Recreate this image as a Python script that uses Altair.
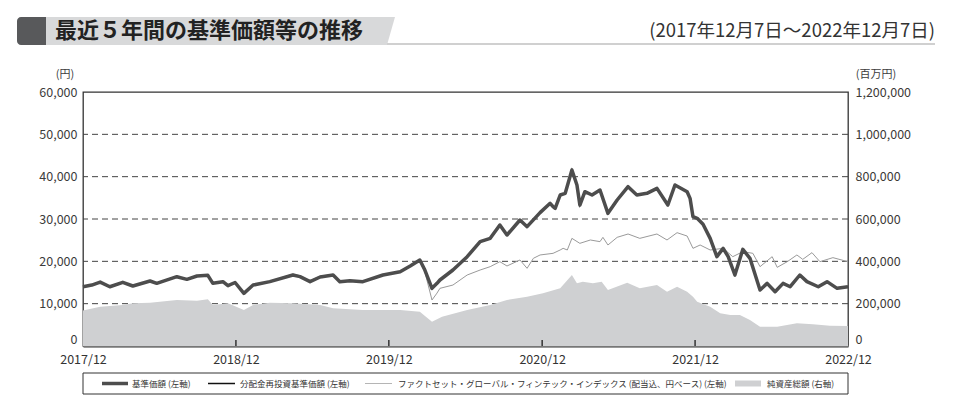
import altair as alt
import pandas as pd

# ---------------- data ----------------
base_dates = [
    "2017-12-07", "2017-12-28", "2018-01-17", "2018-02-09", "2018-03-12", "2018-04-05",
    "2018-05-16", "2018-06-01", "2018-07-19", "2018-08-12", "2018-09-05", "2018-10-01",
    "2018-10-13", "2018-11-06", "2018-11-18", "2018-12-05", "2018-12-26", "2019-01-17",
    "2019-02-26", "2019-04-22", "2019-05-09", "2019-06-02", "2019-06-26", "2019-07-27",
    "2019-08-12", "2019-09-05", "2019-10-06", "2019-11-23", "2020-01-03", "2020-01-27",
    "2020-02-19", "2020-03-02", "2020-03-19", "2020-03-31", "2020-04-07", "2020-05-08",
    "2020-06-11", "2020-07-12", "2020-08-05", "2020-08-28", "2020-09-14", "2020-10-15",
    "2020-11-01", "2020-12-02", "2020-12-26", "2021-01-02", "2021-01-07", "2021-01-19",
    "2021-01-31", "2021-02-16", "2021-02-28", "2021-03-07", "2021-03-19", "2021-04-05",
    "2021-04-24", "2021-05-13", "2021-06-04", "2021-06-30", "2021-07-21", "2021-08-14",
    "2021-09-07", "2021-10-03", "2021-10-20", "2021-11-18", "2021-11-25", "2021-12-02",
    "2021-12-12", "2021-12-26", "2022-01-12", "2022-01-28", "2022-02-12", "2022-02-24",
    "2022-03-12", "2022-03-31", "2022-04-17", "2022-05-11", "2022-05-28", "2022-06-16",
    "2022-07-05", "2022-07-22", "2022-08-14", "2022-08-31", "2022-09-27", "2022-10-18",
    "2022-11-11", "2022-12-07",
]
base_vals = [
    14000, 14400, 15100, 14000, 15050, 14170,
    15350, 14800, 16370, 15750, 16530, 16690,
    14800, 15200, 14250, 15000, 12440, 14400,
    15200, 16770, 16380, 15200, 16300, 16770,
    15200, 15440, 15200, 16770, 17560, 18900,
    20320, 17950, 13620, 14800, 15590, 17950,
    21100, 24650, 25430, 28580, 26220, 29760,
    28190, 31500, 33700, 32900, 32520, 35670,
    36060, 41570, 38030, 33300, 36450, 35670,
    36850, 31340, 34490, 37640, 35670, 36060,
    37240, 33300, 38030, 36450, 34880, 30550,
    30160, 28780, 25430, 21100, 23070, 21100,
    16770, 22830, 20710, 13230, 14800, 12830,
    14800, 14000, 16770, 15200, 14000, 15200,
    13620, 14000,
]

idx_dates = [
    "2017-12-07", "2017-12-28", "2018-01-17", "2018-02-09", "2018-03-12", "2018-04-05",
    "2018-05-16", "2018-06-01", "2018-07-19", "2018-08-12", "2018-09-05", "2018-10-01",
    "2018-10-13", "2018-11-06", "2018-11-18", "2018-12-05", "2018-12-26", "2019-01-17",
    "2019-02-26", "2019-04-22", "2019-05-09", "2019-06-02", "2019-06-26", "2019-07-27",
    "2019-08-12", "2019-09-05", "2019-10-06", "2019-11-23", "2020-01-03", "2020-01-27",
    "2020-02-19", "2020-03-02", "2020-03-19", "2020-03-31", "2020-04-07", "2020-05-08",
    "2020-06-11", "2020-07-12", "2020-08-05", "2020-08-28", "2020-09-14", "2020-10-15",
    "2020-11-01", "2020-11-16", "2020-12-02", "2021-01-02", "2021-01-19", "2021-01-26",
    "2021-02-05", "2021-02-16", "2021-03-07", "2021-04-01", "2021-04-24", "2021-05-01",
    "2021-05-13", "2021-06-04", "2021-06-30", "2021-07-28", "2021-09-07", "2021-10-01",
    "2021-10-25", "2021-11-18", "2021-12-02", "2021-12-19", "2022-01-12", "2022-02-12",
    "2022-03-07", "2022-03-31", "2022-04-24", "2022-05-11", "2022-06-09", "2022-06-21",
    "2022-07-15", "2022-08-07", "2022-08-21", "2022-09-12", "2022-10-01", "2022-11-01",
    "2022-12-07",
]
idx_vals = [
    14000, 14400, 15100, 14000, 15050, 14170,
    15350, 14800, 16370, 15750, 16530, 16690,
    14800, 15200, 14250, 15000, 12440, 14400,
    15300, 17000, 16600, 15400, 16500, 16900,
    15300, 15500, 15300, 16800, 17560, 18800,
    20100, 17500, 10860, 12500, 13620, 14400,
    16770, 17950, 18740, 19920, 18900, 20320,
    18350, 20710, 21500, 21890, 22680, 23070,
    22680, 25430, 24250, 25040, 24650, 25670,
    23860, 25670, 26460, 25430, 26460, 25040,
    26770, 25980, 23070, 23860, 22680, 23070,
    21100, 22290, 21890, 18740, 21100, 18580,
    19920, 21500, 20470, 22050, 19920, 20870,
    19920,
]

na_dates = [
    "2017-12-07", "2018-01-17", "2018-03-12", "2018-04-05", "2018-05-16", "2018-07-19",
    "2018-09-05", "2018-10-01", "2018-10-13", "2018-11-18", "2018-12-26", "2019-01-17",
    "2019-02-26", "2019-04-22", "2019-06-26", "2019-07-27", "2019-10-06", "2020-01-03",
    "2020-02-19", "2020-03-19", "2020-04-12", "2020-06-11", "2020-08-05", "2020-09-14",
    "2020-11-01", "2020-12-09", "2021-01-19", "2021-02-16", "2021-02-28", "2021-03-14",
    "2021-04-07", "2021-04-28", "2021-05-13", "2021-06-28", "2021-07-28", "2021-09-07",
    "2021-10-01", "2021-10-25", "2021-11-18", "2021-12-02", "2021-12-12", "2022-01-12",
    "2022-02-05", "2022-03-01", "2022-03-24", "2022-04-17", "2022-05-11", "2022-06-21",
    "2022-08-07", "2022-09-14", "2022-10-25", "2022-12-07",
]
na_vals = [
    168000, 185700, 193700, 201600, 204700, 217300,
    214000, 220500, 193700, 201600, 170000, 193700,
    204700, 201600, 193700, 178000, 170000, 170000,
    162000, 114800, 138400, 170000, 193700, 217300,
    233000, 249000, 272600, 335400, 296200, 303800,
    296200, 303800, 264600, 299000, 272600, 288200,
    256500, 280000, 256500, 233000, 209300, 185700,
    154300, 146500, 146500, 122800, 91300, 91300,
    107000, 102400, 96000, 94500,
]

x_tick_dates = ["2017-12-07", "2018-12-07", "2019-12-07", "2020-12-07", "2021-12-07", "2022-12-07"]
inner_tick_dates = ["2018-12-07", "2019-12-07", "2020-12-07", "2021-12-07"]
left_ticks = [0, 10000, 20000, 30000, 40000, 50000, 60000]
grid_vals = [10000, 20000, 30000, 40000, 50000]
right_ticks = [0, 200000, 400000, 600000, 800000, 1000000, 1200000]

title_text = "最近５年間の基準価額等の推移"
period_text = "(2017年12月7日～2022年12月7日)"
left_unit = "(円)"
right_unit = "(百万円)"
legend_labels = [
    "基準価額 (左軸)",
    "分配金再投資基準価額 (左軸)",
    "ファクトセット・グローバル・フィンテック・インデックス (配当込、円ベース) (左軸)",
    "純資産総額 (右軸)",
]

# ---------------- styling ----------------
W, H = 765, 254
FONT = "Noto Sans CJK JP"
C_BASE = "#4d4d4d"
C_REINV = "#111111"
C_IDX = "#9a9a9a"
C_NA = "#cfd0d2"

base_df = pd.DataFrame({"date": base_dates, "v": base_vals})
idx_df = pd.DataFrame({"date": idx_dates, "v": idx_vals})
na_df = pd.DataFrame({"date": na_dates, "v": na_vals})
grid_df = pd.DataFrame({"g": grid_vals})
tick_df = pd.DataFrame({"date": inner_tick_dates})
one = pd.DataFrame({"k": [0]})

x_dom = [alt.DateTime(year=2017, month=12, date=7, utc=True),
         alt.DateTime(year=2022, month=12, date=7, utc=True)]
x_vals = [alt.DateTime(year=int(d[:4]), month=int(d[5:7]), date=int(d[8:10]), utc=True)
          for d in x_tick_dates]

x_axis = alt.Axis(values=x_vals, labelExpr="utcFormat(datum.value, '%Y/%m')",
                  ticks=False, grid=False, domain=True, domainColor="#777777",
                  domainWidth=2.5, labelPadding=7, labelFontSize=12.5,
                  labelColor="#333333", labelFont=FONT, title=None,
                  labelFlush=False, labelOverlap=False)
x_enc = alt.X("date:T", scale=alt.Scale(type="utc", domain=x_dom, nice=False), axis=x_axis)

y_left_scale = alt.Scale(domain=[0, 60000], nice=False, zero=True)
y_right_scale = alt.Scale(domain=[0, 1200000], nice=False, zero=True)

zero_baseline = alt.condition("datum.value == 0", alt.value("bottom"), alt.value("middle"))

left_axis = alt.Axis(orient="left", values=left_ticks, format=",.0f", grid=False, ticks=False,
                     domain=False, labelPadding=6, labelFontSize=12.5, labelColor="#3c3c3c",
                     labelFont=FONT, title=None, labelBaseline=zero_baseline)
right_axis = alt.Axis(orient="right", values=right_ticks, format=",.0f", grid=False, ticks=False,
                      domain=False, labelPadding=7, labelFontSize=12.5, labelColor="#3c3a37",
                      labelFont=FONT, title=None, labelBaseline=zero_baseline)

grid = alt.Chart(grid_df).mark_rule(strokeDash=[6, 4], color="#444444", strokeWidth=1).encode(
    y=alt.Y("g:Q", scale=y_left_scale, axis=left_axis)
)

area = alt.Chart(na_df).mark_area(color=C_NA, opacity=1).encode(
    x=x_enc, y=alt.Y("v:Q", scale=y_right_scale, axis=right_axis)
)

idx_line = alt.Chart(idx_df).mark_line(color=C_IDX, strokeWidth=1).encode(
    x=x_enc, y=alt.Y("v:Q", scale=y_left_scale, axis=None)
)
reinv_line = alt.Chart(base_df).mark_line(color=C_REINV, strokeWidth=1.5).encode(
    x=x_enc, y=alt.Y("v:Q", scale=y_left_scale, axis=None)
)
base_line = alt.Chart(base_df).mark_line(color=C_BASE, strokeWidth=3.5, strokeJoin="round").encode(
    x=x_enc, y=alt.Y("v:Q", scale=y_left_scale, axis=None)
)

inner_ticks = alt.Chart(tick_df).mark_rule(color="#333333", strokeWidth=1.5).encode(
    x=x_enc, y=alt.value(H), y2=alt.value(H - 6)
)

# ---------------- header ----------------
dark_sq = alt.Chart(one).mark_rect(color="#58595b", cornerRadiusTopLeft=4,
                                   cornerRadiusBottomLeft=4).encode(
    x=alt.value(-66), x2=alt.value(-37), y=alt.value(-75), y2=alt.value(-47)
)
bar_shape = "M-37,-75 L312,-75 L304,-47 L-37,-47 Z"
title_bar = alt.Chart(one).mark_point(shape=bar_shape, size=4, filled=True, opacity=1,
                                      color="#d8d9da", strokeWidth=0).encode(
    x=alt.value(0), y=alt.value(0)
)
underline = alt.Chart(one).mark_rect(color="#d0d0d0").encode(
    x=alt.value(304), x2=alt.value(852), y=alt.value(-49), y2=alt.value(-47)
)
title_mark = alt.Chart(one).mark_text(text=title_text, align="left", baseline="middle",
                                      fontSize=22, fontWeight="bold", font=FONT,
                                      color="#222222").encode(
    x=alt.value(-28), y=alt.value(-61)
)
period_mark = alt.Chart(one).mark_text(text=period_text, align="right", baseline="middle",
                                       fontSize=18.5, font=FONT, color="#333333").encode(
    x=alt.value(852), y=alt.value(-61)
)
unit_l = alt.Chart(one).mark_text(text=left_unit, align="center", baseline="middle",
                                  fontSize=11, font=FONT, color="#3c3c3c").encode(
    x=alt.value(-18), y=alt.value(-17)
)
unit_r = alt.Chart(one).mark_text(text=right_unit, align="center", baseline="middle",
                                  fontSize=11, font=FONT, color="#3c3c3c").encode(
    x=alt.value(793), y=alt.value(-17)
)

# ---------------- legend ----------------
LY = 291.5
leg_box = alt.Chart(one).mark_rect(fill="white", stroke="#333333", strokeWidth=1).encode(
    x=alt.value(0), x2=alt.value(W), y=alt.value(281), y2=alt.value(302)
)
leg_items = []
leg_specs = [
    (19, 45, C_BASE, 3.5, 49),
    (125, 152, C_REINV, 1.5, 157),
    (282, 309, "#b5b5b5", 1, 315),
    (652, 678, C_NA, 6, 684),
]
for (xa, xb, col, sw, tx), lab in zip(leg_specs, legend_labels):
    leg_items.append(alt.Chart(one).mark_rule(color=col, strokeWidth=sw).encode(
        x=alt.value(xa), x2=alt.value(xb), y=alt.value(LY)))
    leg_items.append(alt.Chart(one).mark_text(text=lab, align="left", baseline="middle",
                                              fontSize=8.5, font=FONT, color="#333333").encode(
        x=alt.value(tx), y=alt.value(LY)))

chart = alt.layer(
    grid, area, idx_line, reinv_line, base_line, inner_ticks,
    title_bar, dark_sq, underline, title_mark, period_mark, unit_l, unit_r,
    leg_box, *leg_items
).resolve_scale(y="independent").properties(
    width=W, height=H,
    padding={"left": 83, "top": 92, "right": 110, "bottom": 55},
    autosize=alt.AutoSizeParams(type="none"),
    background="white",
).configure_view(stroke="#333333", strokeWidth=1.3)

chart.save("out.html", embed_options={"renderer": "svg", "actions": False})
